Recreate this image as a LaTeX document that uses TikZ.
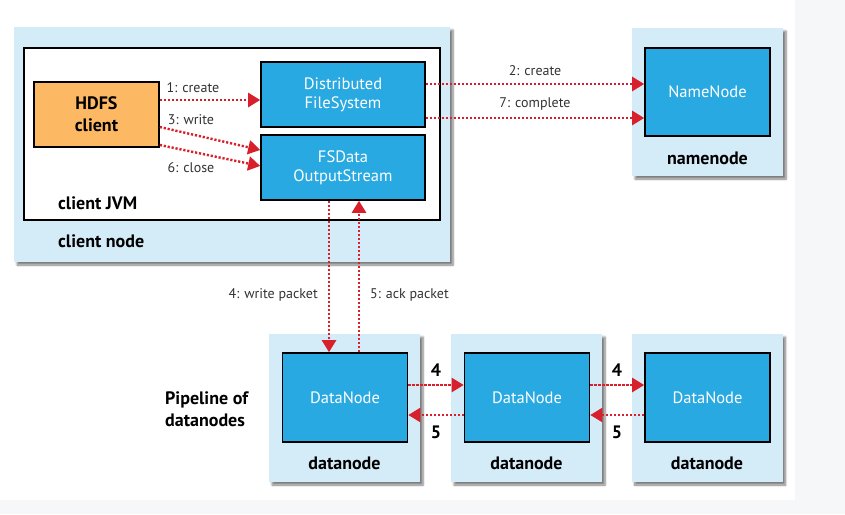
\documentclass[tikz,border=0pt]{standalone}
\usepackage{fontspec}
\setmainfont{PT Sans}
\usetikzlibrary{arrows.meta,shadows.blur,calc}
\definecolor{lightbox}{HTML}{D4ECF7}
\definecolor{bluebox}{HTML}{29A9E1}
\definecolor{orangebox}{HTML}{FDB863}
\definecolor{arrred}{HTML}{D7202B}
\definecolor{labgray}{HTML}{333333}
\definecolor{edgegray}{HTML}{F5F7F9}
\tikzset{
  hostbox/.style={draw=none,fill=lightbox,minimum width=151pt,minimum height=148pt,inner sep=0pt,
    blur shadow={shadow xshift=3pt,shadow yshift=-3pt,shadow blur steps=6,shadow opacity=50}},
  procbox/.style={draw=black,line width=1.6pt,fill=bluebox,text=white,align=center,
    minimum width=125pt,minimum height=89pt,inner sep=0pt,font=\fontsize{16.5}{19}\selectfont},
  boldlab/.style={font=\fontsize{18}{22}\selectfont\bfseries,text=black,inner sep=0pt},
  steplab/.style={font=\fontsize{14}{17}\selectfont,text=labgray,inner sep=0pt},
  arr/.style={draw=arrred,line width=2.4pt,dash pattern=on 2.2pt off 1.8pt,
    -{Triangle[length=12pt,width=14pt]},shorten >=0pt}
}
\begin{document}
\begin{tikzpicture}[x=1pt,y=-1pt]
\useasboundingbox (0,0) rectangle (845,514);
\fill[edgegray] (795,0) rectangle (845,514);
\fill[edgegray] (0,500) rectangle (845,514);
% client node
\node[hostbox,minimum width=436pt,minimum height=235pt] (cnode) at (232,144.5) {};
\node[draw=black,line width=1.6pt,fill=white,minimum width=416pt,minimum height=172pt,inner sep=0pt] (jvm) at (232,134) {};
\node[draw=black,line width=1.6pt,fill=orangebox,minimum width=125pt,minimum height=65pt,align=center,
  font=\fontsize{18}{22}\selectfont\bfseries,inner sep=0pt] (hdfs) at (96.5,114.5) {HDFS\\client};
\node[procbox,minimum width=164pt,minimum height=65pt] (dfs) at (343,94.5) {Distributed\\FileSystem};
\node[procbox,minimum width=164pt,minimum height=65pt] (fsd) at (343,167.5) {FSData\\OutputStream};
\node[boldlab,anchor=west] (jvmlab) at (58,203) {client JVM};
\node[boldlab,anchor=west] (cnlab) at (58,241) {client node};
% namenode
\node[hostbox] (nnhost) at (707.5,102) {};
\node[procbox,minimum height=88pt] (nn) at (707.5,92) {NameNode};
\node[boldlab] (nnlab) at (707.5,158) {namenode};
% datanodes
\foreach \i/\x in {1/344.5,2/526.5,3/707}{
  \node[hostbox] (dh\i) at (\x,408) {};
  \node[procbox] (dn\i) at (\x+0.5,397.5) {DataNode};
  \node[boldlab] (dl\i) at (\x,463) {datanode};
}
\node[boldlab,align=left,anchor=west,font=\fontsize{18}{22}\selectfont\bfseries] (pipe) at (165,409) {Pipeline of\\datanodes};
% arrows in client
\draw[arr] (hdfs.east |- 0,100) -- (dfs.west |- 0,100);
\draw[arr] (hdfs.east |- 0,127) -- (fsd.west |- 0,150);
\draw[arr] (hdfs.east |- 0,145) -- (fsd.west |- 0,166);
\node[steplab] (l1) at (193,88) {1: create};
\node[steplab] (l3) at (191,120) {3: write};
\node[steplab] (l6) at (191,168) {6: close};
% to namenode
\draw[arr] (dfs.east |- 0,84) -- (nn.west |- 0,84);
\draw[arr] (dfs.east |- 0,118) -- (nn.west |- 0,118);
\node[steplab] (l2) at (535,71) {2: create};
\node[steplab] (l7) at (535,104) {7: complete};
% packets
\draw[arr] (fsd.south -| 329,0) -- (dn1.north -| 329,0);
\draw[arr] (dn1.north -| 359,0) -- (fsd.south -| 359,0);
\node[steplab,anchor=east] (l4) at (318,295) {4: write packet};
\node[steplab,anchor=west] (l5) at (370,295) {5: ack packet};
% pipeline
\draw[arr] (dn1.east |- 0,385) -- (dn2.west |- 0,385);
\draw[arr] (dn2.west |- 0,415) -- (dn1.east |- 0,415);
\draw[arr] (dn2.east |- 0,385) -- (dn3.west |- 0,385);
\draw[arr] (dn3.west |- 0,415) -- (dn2.east |- 0,415);
\node[boldlab] (p4a) at (436,370) {4};
\node[boldlab] (p5a) at (436,432) {5};
\node[boldlab] (p4b) at (617,370) {4};
\node[boldlab] (p5b) at (617,432) {5};
\end{tikzpicture}
\end{document}
